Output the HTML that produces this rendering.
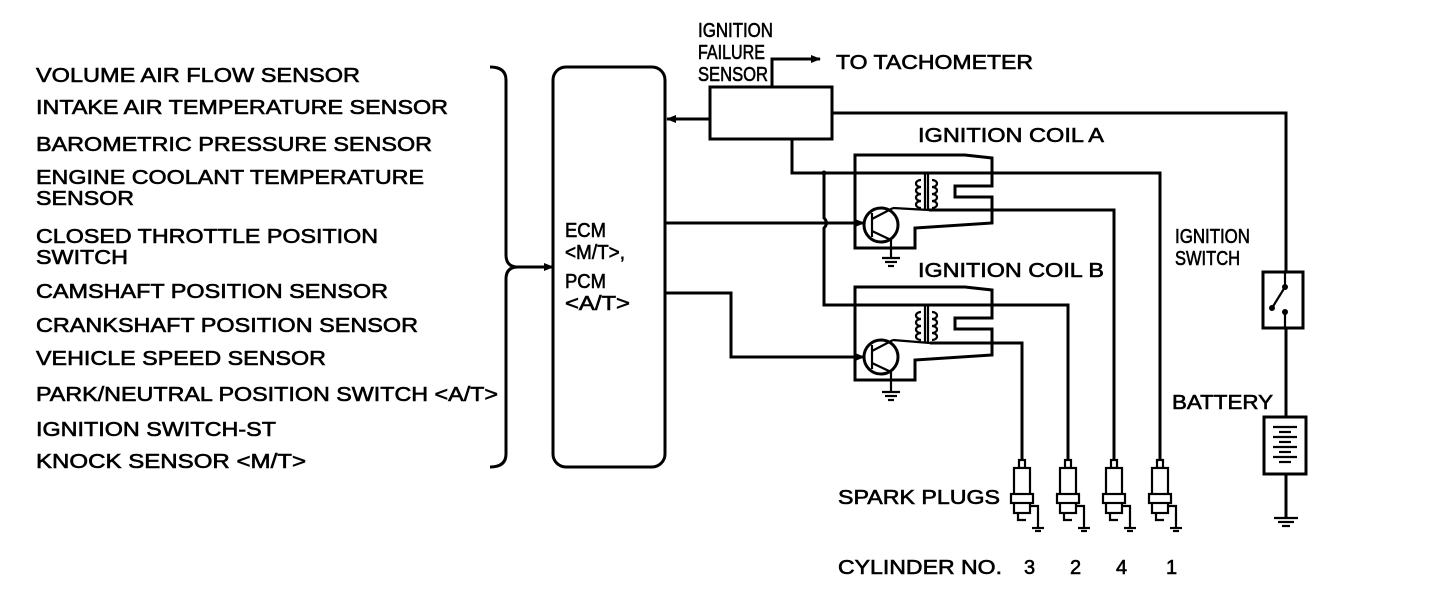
<!DOCTYPE html>
<html><head><meta charset="utf-8"><style>
html,body{margin:0;padding:0;background:#fff;}
svg{display:block}
text{font-family:"Liberation Sans",sans-serif;font-size:20px;fill:#000;stroke:#000;stroke-width:0.6;}
</style></head><body>
<svg width="1440" height="606" viewBox="0 0 1440 606" xmlns="http://www.w3.org/2000/svg">
<defs>
<marker id="ar" markerWidth="10" markerHeight="8" refX="9" refY="4" orient="auto" markerUnits="userSpaceOnUse">
<path d="M0,0 L10,4 L0,8 z" fill="#000"/></marker>
</defs>
<g>
<text x="36" y="82" textLength="324" lengthAdjust="spacingAndGlyphs">VOLUME AIR FLOW SENSOR</text>
<text x="36" y="114" textLength="412" lengthAdjust="spacingAndGlyphs">INTAKE AIR TEMPERATURE SENSOR</text>
<text x="36" y="151" textLength="396" lengthAdjust="spacingAndGlyphs">BAROMETRIC PRESSURE SENSOR</text>
<text x="36" y="184" textLength="388" lengthAdjust="spacingAndGlyphs">ENGINE COOLANT TEMPERATURE</text>
<text x="36" y="205" textLength="98" lengthAdjust="spacingAndGlyphs">SENSOR</text>
<text x="36" y="243" textLength="342" lengthAdjust="spacingAndGlyphs">CLOSED THROTTLE POSITION</text>
<text x="36" y="264" textLength="92" lengthAdjust="spacingAndGlyphs">SWITCH</text>
<text x="36" y="298" textLength="352" lengthAdjust="spacingAndGlyphs">CAMSHAFT POSITION SENSOR</text>
<text x="36" y="332" textLength="382" lengthAdjust="spacingAndGlyphs">CRANKSHAFT POSITION SENSOR</text>
<text x="36" y="365" textLength="290" lengthAdjust="spacingAndGlyphs">VEHICLE SPEED SENSOR</text>
<text x="36" y="401" textLength="462" lengthAdjust="spacingAndGlyphs">PARK/NEUTRAL POSITION SWITCH &lt;A/T&gt;</text>
<text x="36" y="436" textLength="240" lengthAdjust="spacingAndGlyphs">IGNITION SWITCH-ST</text>
<text x="36" y="468" textLength="270" lengthAdjust="spacingAndGlyphs">KNOCK SENSOR &lt;M/T&gt;</text>

<text x="565" y="237" textLength="41" lengthAdjust="spacingAndGlyphs">ECM</text>
<text x="565" y="259" textLength="60" lengthAdjust="spacingAndGlyphs">&lt;M/T&gt;,</text>
<text x="565" y="288" textLength="41" lengthAdjust="spacingAndGlyphs">PCM</text>
<text x="565" y="310" textLength="65" lengthAdjust="spacingAndGlyphs">&lt;A/T&gt;</text>

<text x="698" y="37" textLength="75" lengthAdjust="spacingAndGlyphs">IGNITION</text>
<text x="698" y="59" textLength="67" lengthAdjust="spacingAndGlyphs">FAILURE</text>
<text x="698" y="81" textLength="70" lengthAdjust="spacingAndGlyphs">SENSOR</text>
<text x="836" y="69" textLength="197" lengthAdjust="spacingAndGlyphs">TO TACHOMETER</text>
<text x="918" y="142" textLength="186" lengthAdjust="spacingAndGlyphs">IGNITION COIL A</text>
<text x="918" y="277" textLength="186" lengthAdjust="spacingAndGlyphs">IGNITION COIL B</text>
<text x="1175" y="243" textLength="75" lengthAdjust="spacingAndGlyphs">IGNITION</text>
<text x="1175" y="265" textLength="65" lengthAdjust="spacingAndGlyphs">SWITCH</text>
<text x="1172" y="409" textLength="101" lengthAdjust="spacingAndGlyphs">BATTERY</text>
<text x="838" y="504" textLength="162" lengthAdjust="spacingAndGlyphs">SPARK PLUGS</text>
<text x="838" y="574" textLength="164" lengthAdjust="spacingAndGlyphs">CYLINDER NO.</text>
<text x="1024" y="574">3</text>
<text x="1070" y="574">2</text>
<text x="1116" y="574">4</text>
<text x="1166" y="574">1</text>
</g>

<g fill="none" stroke="#000" stroke-width="3">
<path d="M490,67 Q506,67 506,80 L506,255 Q506,267 518,267 Q506,267 506,279 L506,454 Q506,467 490,467"/>
<line x1="518" y1="267" x2="553" y2="267" marker-end="url(#ar)"/>
<rect x="553" y="67" width="112" height="400" rx="13"/>
<rect x="710" y="87" width="122" height="52"/>
<polyline points="772,87 772,59 820,59" marker-end="url(#ar)"/>
<line x1="710" y1="119" x2="667" y2="119" marker-end="url(#ar)"/>
<polyline points="832,113 1286,113 1286,272"/>
<line x1="1286" y1="328" x2="1286" y2="417"/>
<line x1="1286" y1="474" x2="1286" y2="518"/>
<polyline points="792,139 792,173 1160,173 1160,460"/>
<path d="M824,173 L824,218 Q829,223 824,228 L824,305 L1068,305 L1068,460"/>
<line x1="665" y1="223" x2="864" y2="223" marker-end="url(#ar)"/>
<polyline points="665,293 731,293 731,357 864,357" marker-end="url(#ar)"/>
<path d="M855,155 L965,155 L992,158 L992,186 L955,186 L955,197 L992,197 L992,223 L915,228 L915,248 L855,248 Z"/>
<circle cx="881" cy="225" r="17"/>
<polyline points="929,210 1114,210 1114,460"/>
<path d="M855,287 L965,287 L992,290 L992,318 L955,318 L955,329 L992,329 L992,355 L915,360 L915,380 L855,380 Z"/>
<circle cx="881" cy="357" r="17"/>
<polyline points="930,343 1022,343 1022,460"/>
<rect x="1263" y="272" width="40" height="56"/>
<rect x="1264" y="417" width="42" height="57"/>
</g>

<g stroke="#000" stroke-width="2.2" fill="none">
<line x1="872" y1="213" x2="872" y2="237"/>
<line x1="872" y1="219" x2="893" y2="208"/>
<line x1="893" y1="208" x2="929" y2="210"/>
<line x1="872" y1="231" x2="891" y2="240"/>
<line x1="891" y1="240" x2="891" y2="258"/>
<line x1="882" y1="258" x2="900" y2="258"/><line x1="885" y1="262" x2="897" y2="262"/><line x1="888" y1="266" x2="894" y2="266"/>
<line x1="925" y1="173" x2="925" y2="210"/><line x1="928" y1="173" x2="928" y2="210"/>
<path d="M921,180 a5,3.5 0 1,0 0,7 a5,3.5 0 1,0 0,7 a5,3.5 0 1,0 0,7 a5,3.5 0 1,0 0,7"/>
<path d="M932,180 a5,3.5 0 1,1 0,7 a5,3.5 0 1,1 0,7 a5,3.5 0 1,1 0,7 a5,3.5 0 1,1 0,7"/>
<line x1="872" y1="345" x2="872" y2="369"/>
<line x1="872" y1="351" x2="893" y2="340"/>
<line x1="893" y1="340" x2="930" y2="343"/>
<line x1="872" y1="363" x2="891" y2="372"/>
<line x1="891" y1="372" x2="891" y2="392"/>
<line x1="882" y1="392" x2="900" y2="392"/><line x1="885" y1="396" x2="897" y2="396"/><line x1="888" y1="400" x2="894" y2="400"/>
<line x1="925" y1="305" x2="925" y2="343"/><line x1="928" y1="305" x2="928" y2="343"/>
<path d="M921,312 a5,3.5 0 1,0 0,7 a5,3.5 0 1,0 0,7 a5,3.5 0 1,0 0,7 a5,3.5 0 1,0 0,7"/>
<path d="M932,312 a5,3.5 0 1,1 0,7 a5,3.5 0 1,1 0,7 a5,3.5 0 1,1 0,7 a5,3.5 0 1,1 0,7"/>
<line x1="1285" y1="272" x2="1285" y2="287"/>
<line x1="1285" y1="287" x2="1272" y2="308"/>
<line x1="1285" y1="312" x2="1285" y2="328"/>
<line x1="1273" y1="427" x2="1297" y2="427"/><line x1="1279" y1="432" x2="1291" y2="432"/>
<line x1="1273" y1="437" x2="1297" y2="437"/><line x1="1279" y1="442" x2="1291" y2="442"/>
<line x1="1273" y1="447" x2="1297" y2="447"/><line x1="1279" y1="452" x2="1291" y2="452"/>
<line x1="1273" y1="457" x2="1297" y2="457"/><line x1="1279" y1="462" x2="1291" y2="462"/>
<line x1="1274" y1="518" x2="1298" y2="518"/><line x1="1278" y1="522" x2="1294" y2="522"/><line x1="1282" y1="526" x2="1290" y2="526"/>
</g>
<g fill="#000">
<circle cx="1285" cy="287" r="3"/><circle cx="1285" cy="312" r="3"/><circle cx="1272" cy="308" r="3"/>
<circle cx="824" cy="173" r="2.5"/>
</g>

<g stroke="#000" stroke-width="2.2" fill="#fff">
<g transform="translate(1022,0)">
<rect x="-3" y="460" width="6" height="8"/><rect x="-8" y="468" width="16" height="45"/><rect x="-11" y="494" width="22" height="9"/>
<polyline points="-4,513 -4,520 4,520" fill="none"/><polyline points="8,506 16,506 16,528" fill="none"/>
<line x1="10" y1="528" x2="22" y2="528"/><line x1="13" y1="531" x2="19" y2="531"/></g>
<g transform="translate(1068,0)">
<rect x="-3" y="460" width="6" height="8"/><rect x="-8" y="468" width="16" height="45"/><rect x="-11" y="494" width="22" height="9"/>
<polyline points="-4,513 -4,520 4,520" fill="none"/><polyline points="8,506 16,506 16,528" fill="none"/>
<line x1="10" y1="528" x2="22" y2="528"/><line x1="13" y1="531" x2="19" y2="531"/></g>
<g transform="translate(1114,0)">
<rect x="-3" y="460" width="6" height="8"/><rect x="-8" y="468" width="16" height="45"/><rect x="-11" y="494" width="22" height="9"/>
<polyline points="-4,513 -4,520 4,520" fill="none"/><polyline points="8,506 16,506 16,528" fill="none"/>
<line x1="10" y1="528" x2="22" y2="528"/><line x1="13" y1="531" x2="19" y2="531"/></g>
<g transform="translate(1160,0)">
<rect x="-3" y="460" width="6" height="8"/><rect x="-8" y="468" width="16" height="45"/><rect x="-11" y="494" width="22" height="9"/>
<polyline points="-4,513 -4,520 4,520" fill="none"/><polyline points="8,506 16,506 16,528" fill="none"/>
<line x1="10" y1="528" x2="22" y2="528"/><line x1="13" y1="531" x2="19" y2="531"/></g>
</g>
</svg>
</body></html>
